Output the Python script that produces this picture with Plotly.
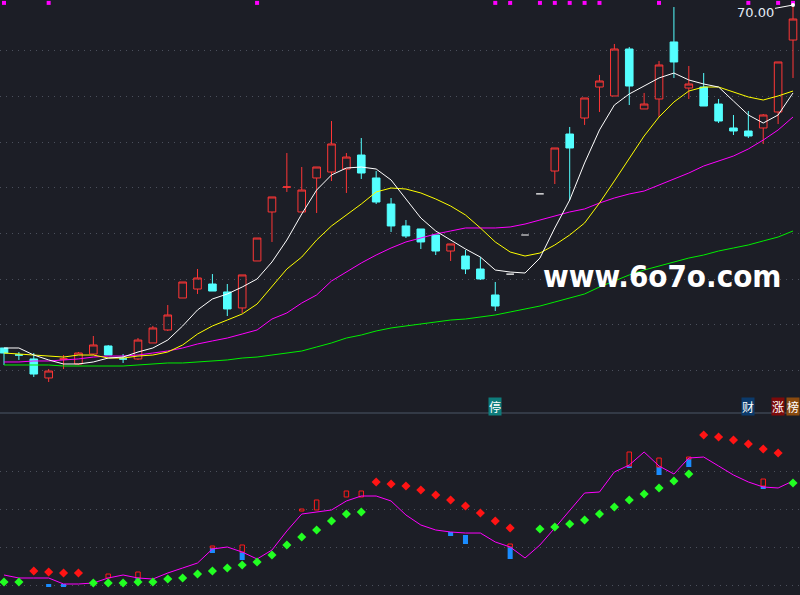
import plotly.graph_objects as go

# ---------------- data ----------------
days = list(range(54))

opens = [32.48, 31.71, 31.28, 29.20, 31.28, 30.73, 31.82, 32.70, 31.28, 31.28,
         33.03, 34.45, 37.95, 38.93, 39.48, 38.61, 36.86, 42.00, 47.36, 50.09,
         47.36, 51.08, 51.73, 52.06, 53.59, 51.08, 48.23, 45.83, 45.50, 44.84,
         43.09, 42.54, 41.12, 38.28, 40.57, 44.84, 49.33, 51.84, 55.89, 57.64,
         61.03, 60.05, 65.19, 58.63, 59.72, 65.96, 60.92, 61.03, 59.17, 56.55,
         56.22, 56.55, 58.30, 66.17]
highs = [32.48, 32.04, 31.93, 30.18, 31.71, 32.04, 33.79, 32.81, 31.82, 33.57,
         34.89, 37.18, 39.70, 41.12, 40.57, 39.48, 40.47, 44.51, 49.00, 53.81,
         52.28, 52.28, 57.31, 53.81, 55.45, 51.84, 48.89, 46.48, 45.50, 44.84,
         43.86, 43.20, 42.43, 39.70, 40.57, 44.84, 49.33, 54.36, 56.66, 59.83,
         62.35, 65.74, 65.41, 60.38, 63.88, 69.78, 63.33, 62.56, 59.72, 57.97,
         58.41, 58.08, 63.77, 70.00]
lows = [30.62, 31.17, 29.31, 28.76, 30.18, 30.62, 31.71, 31.71, 30.84, 31.17,
        33.03, 34.34, 37.95, 38.39, 38.71, 35.98, 36.31, 42.00, 44.08, 49.55,
        47.36, 47.25, 50.75, 49.44, 50.97, 48.23, 45.17, 44.51, 43.31, 42.65,
        42.00, 40.57, 39.92, 36.53, 40.57, 44.84, 49.33, 50.42, 48.67, 56.88,
        58.30, 60.05, 59.06, 58.63, 57.75, 62.02, 59.72, 58.95, 57.09, 55.78,
        55.45, 54.80, 56.98, 62.02]
closes = [31.93, 31.71, 29.63, 29.96, 31.28, 31.93, 32.81, 31.71, 31.28, 33.35,
          34.67, 36.09, 39.70, 40.14, 38.71, 36.75, 40.47, 44.51, 49.00, 50.09,
          49.76, 52.28, 54.80, 53.37, 51.62, 48.45, 45.83, 44.73, 44.08, 43.09,
          43.86, 41.12, 40.03, 37.07, 40.57, 44.84, 49.33, 54.36, 54.36, 59.83,
          61.69, 65.19, 61.14, 59.17, 63.44, 63.77, 61.36, 58.95, 57.31, 56.22,
          55.67, 57.97, 63.77, 68.47]

ma5 = [32.48, 32.48, 31.71, 31.17, 30.73, 30.73, 30.95, 31.38, 31.49, 32.04,
       32.48, 33.35, 34.89, 36.64, 37.84, 38.39, 39.15, 40.03, 41.89, 44.29,
       47.14, 49.76, 51.41, 52.17, 52.28, 52.06, 50.86, 48.78, 46.70, 45.28,
       44.29, 43.31, 42.43, 41.01, 40.79, 40.68, 42.32, 45.61, 48.67, 52.72,
       56.33, 59.06, 60.27, 61.14, 62.02, 62.56, 61.80, 61.36, 61.03, 59.50,
       57.97, 57.09, 57.97, 60.38]
ma10 = [31.93, 31.82, 31.71, 31.60, 31.49, 31.71, 31.71, 31.38, 31.38, 31.60,
        31.71, 32.04, 32.81, 34.01, 34.89, 35.54, 36.20, 37.29, 39.26, 41.12,
        42.43, 44.29, 45.83, 47.03, 48.23, 49.55, 49.98, 49.87, 49.44, 48.78,
        48.01, 47.03, 45.61, 44.08, 42.98, 42.54, 42.87, 43.75, 44.84, 46.15,
        48.34, 50.75, 53.27, 55.67, 57.75, 59.39, 60.59, 61.03, 61.03, 60.49,
        59.94, 59.61, 60.05, 60.59]
ma20 = [30.95, 30.95, 31.06, 31.06, 31.17, 31.28, 31.49, 31.60, 31.60, 31.71,
        31.93, 32.15, 32.48, 32.92, 33.25, 33.57, 34.01, 34.45, 35.65, 36.31,
        37.40, 38.28, 39.81, 40.79, 41.78, 42.65, 43.42, 44.08, 44.51, 44.95,
        45.28, 45.61, 45.61, 45.61, 45.72, 46.04, 46.48, 46.92, 47.36, 47.69,
        48.34, 48.89, 49.33, 49.65, 50.31, 50.97, 51.62, 52.39, 52.94, 53.48,
        54.25, 55.23, 56.33, 57.75]
ma60 = [30.62, 30.62, 30.62, 30.62, 30.51, 30.51, 30.51, 30.51, 30.51, 30.62,
        30.73, 30.84, 30.84, 30.95, 31.06, 31.17, 31.38, 31.49, 31.71, 31.93,
        32.15, 32.59, 33.03, 33.57, 33.90, 34.34, 34.67, 34.89, 35.10, 35.32,
        35.54, 35.65, 35.87, 36.09, 36.42, 36.75, 37.07, 37.51, 37.95, 38.39,
        39.15, 39.81, 40.47, 41.01, 41.45, 41.89, 42.32, 42.65, 43.09, 43.42,
        43.75, 44.19, 44.62, 45.28]

# flagged days (magenta squares along the top)
flag_days = [0, 3, 17, 33, 34, 36, 37, 38, 39, 40, 44, 50, 52, 53]

# event labels
event_days = [33, 50, 52, 53]
event_text = ["停", "财", "涨", "榜"]
event_bg = ["#0e7c7b", "#0b3a6b", "#7d0a0a", "#8a4a0e"]

# ---------------- lower indicator ----------------
ind_line = [2.63, 1.84, 1.84, 1.84, 0.26, 0.26, 0.53, 1.84, 2.63, 1.84,
            1.58, 3.16, 4.47, 5.79, 9.47, 10.00, 8.68, 6.84, 9.21, 14.21,
            18.68, 19.21, 19.74, 22.11, 23.42, 23.42, 22.11, 18.42, 15.79, 14.47,
            13.95, 13.68, 13.68, 11.32, 10.00, 7.11, 10.53, 15.00, 19.74, 24.21,
            24.47, 29.74, 31.58, 35.00, 31.32, 29.21, 33.42, 33.68, 31.32, 28.95,
            27.11, 25.79, 25.53, 27.37]
sar = [0.79, 0.79, 3.68, 3.42, 3.16, 3.16, 0.53, 0.53, 0.53, 0.79,
       0.79, 1.58, 1.84, 2.89, 3.68, 4.47, 5.26, 6.05, 7.89, 10.53,
       12.63, 14.47, 16.84, 18.68, 19.21, 27.11, 26.58, 26.05, 25.00, 23.68,
       22.37, 20.79, 18.95, 16.84, 15.00, None, 14.74, 15.26, 16.05, 17.11,
       18.68, 20.53, 22.37, 23.95, 25.53, 27.37, 29.21, 39.47, 38.95, 38.16,
       37.11, 35.79, 34.74, 26.84]
sar_trend = ["up", "up", "down", "down", "down", "down", "up", "up", "up", "up",
             "up", "up", "up", "up", "up", "up", "up", "up", "up", "up",
             "up", "up", "up", "up", "up", "down", "down", "down", "down", "down",
             "down", "down", "down", "down", "down", None, "up", "up", "up", "up",
             "up", "up", "up", "up", "up", "up", "up", "down", "down", "down",
             "down", "down", "down", "up"]

red_bar_days = [7, 9, 14, 16, 20, 21, 23, 24, 34, 42, 44, 46, 51]
red_bar_low = [1.84, 1.84, 9.74, 8.68, 19.47, 19.74, 23.16, 23.16, 10.00, 31.32, 31.05, 33.16, 26.05]
red_bar_high = [2.89, 3.42, 10.26, 10.53, 20.00, 22.37, 24.74, 24.74, 10.79, 35.00, 33.42, 33.68, 27.89]

blue_bar_days = [3, 4, 9, 14, 16, 30, 31, 34, 42, 44, 46, 51]
blue_bar_top = [0.26, 0.26, 1.84, 9.74, 8.68, 13.95, 13.16, 10.00, 31.32, 31.05, 33.16, 26.05]
blue_bar_bottom = [-0.53, -0.53, 1.05, 8.42, 6.58, 12.89, 10.79, 6.84, 30.79, 28.95, 31.05, 25.26]

main_grid = [30, 35, 40, 45, 50, 55, 60, 65]
lower_grid = [0, 10, 20, 30]

# ---------------- styling ----------------
BG = "#1c1e26"
RED = "#ff3636"
CYAN = "#54ffff"
GRID = "#4b505c"
SPLIT = 1 - 413 / 595

fig = go.Figure()

flat = [i for i in days if opens[i] == highs[i] == lows[i] == closes[i]]
normal = [i for i in days if i not in flat]

fig.add_trace(go.Candlestick(
    x=normal,
    open=[opens[i] for i in normal], high=[highs[i] for i in normal],
    low=[lows[i] for i in normal], close=[closes[i] for i in normal],
    increasing=dict(line=dict(color=RED, width=1), fillcolor="rgba(0,0,0,0)"),
    decreasing=dict(line=dict(color=CYAN, width=1), fillcolor=CYAN),
    xaxis="x", yaxis="y", showlegend=False, hoverinfo="skip"))
fig.add_trace(go.Candlestick(
    x=flat,
    open=[opens[i] for i in flat], high=[highs[i] for i in flat],
    low=[lows[i] for i in flat], close=[closes[i] for i in flat],
    increasing=dict(line=dict(color="#ffffff", width=1.2), fillcolor="#ffffff"),
    decreasing=dict(line=dict(color="#ffffff", width=1.2), fillcolor="#ffffff"),
    xaxis="x", yaxis="y", showlegend=False, hoverinfo="skip"))

for vals, col in [(ma60, "#00ee00"), (ma20, "#ff00ff"), (ma10, "#ffff00"), (ma5, "#ffffff")]:
    fig.add_trace(go.Scatter(x=days, y=vals, mode="lines",
                             line=dict(color=col, width=1),
                             xaxis="x", yaxis="y", showlegend=False, hoverinfo="skip"))

fig.add_trace(go.Scatter(x=flag_days, y=[0.993] * len(flag_days), mode="markers",
                         marker=dict(symbol="square", size=4, color="#ff00ff"),
                         xaxis="x", yaxis="y3", showlegend=False, hoverinfo="skip",
                         cliponaxis=False))

# lower panel
fig.add_trace(go.Bar(x=blue_bar_days,
                     y=[t - b for t, b in zip(blue_bar_top, blue_bar_bottom)],
                     base=blue_bar_bottom, width=0.34,
                     marker=dict(color="#1a8cff", line=dict(width=0)),
                     xaxis="x2", yaxis="y2", showlegend=False, hoverinfo="skip"))
fig.add_trace(go.Bar(x=red_bar_days,
                     y=[h - l for h, l in zip(red_bar_high, red_bar_low)],
                     base=red_bar_low, width=0.3,
                     marker=dict(color="rgba(0,0,0,0)", line=dict(color="#ff1a1a", width=1)),
                     xaxis="x2", yaxis="y2", showlegend=False, hoverinfo="skip"))
fig.add_trace(go.Scatter(x=days, y=ind_line, mode="lines",
                         line=dict(color="#ff00ff", width=1),
                         xaxis="x2", yaxis="y2", showlegend=False, hoverinfo="skip"))
up_idx = [i for i in days if sar_trend[i] == "up"]
dn_idx = [i for i in days if sar_trend[i] == "down"]
fig.add_trace(go.Scatter(x=up_idx, y=[sar[i] for i in up_idx], mode="markers",
                         marker=dict(symbol="diamond", size=7, color="#22ff22"),
                         xaxis="x2", yaxis="y2", showlegend=False, hoverinfo="skip"))
fig.add_trace(go.Scatter(x=dn_idx, y=[sar[i] for i in dn_idx], mode="markers",
                         marker=dict(symbol="diamond", size=7, color="#ff1414"),
                         xaxis="x2", yaxis="y2", showlegend=False, hoverinfo="skip"))

xr = [-0.269, 53.47]
ax_common = dict(showgrid=False, zeroline=False, showticklabels=False, showline=False, ticks="")

annotations = []
top_i = max(days, key=lambda i: highs[i])
annotations.append(dict(x=top_i, y=highs[top_i], xref="x", yref="y",
                        text=f"{highs[top_i]:.2f}", showarrow=True,
                        arrowhead=6, arrowsize=1, arrowwidth=1, arrowcolor="#ffffff",
                        ax=-38, ay=7,
                        font=dict(family="DejaVu Sans", size=13, color="#e4ecf6")))
for d, t, bg in zip(event_days, event_text, event_bg):
    annotations.append(dict(x=d, y=1 - 406 / 595, xref="x", yref="paper", text=t,
                            showarrow=False, bgcolor=bg, borderpad=0,
                            xanchor="center", yanchor="middle",
                            font=dict(family="Noto Sans CJK SC", size=12, color="#ffffff")))
annotations.append(dict(x=662 / 800, y=1 - 276 / 595, xref="paper", yref="paper",
                        text="<b>www.6o7o.com</b>", showarrow=False,
                        xanchor="center", yanchor="middle",
                        font=dict(family="DejaVu Sans Condensed, DejaVu Sans", size=31,
                                  color="#ffffff")))

fig.update_layout(
    width=800, height=595,
    margin=dict(l=0, r=0, t=0, b=0, pad=0, autoexpand=False),
    paper_bgcolor=BG, plot_bgcolor=BG,
    boxgap=0.27, barmode="overlay",
    showlegend=False, hovermode=False,
    xaxis=dict(range=xr, anchor="y", domain=[0, 1], rangeslider=dict(visible=False), **ax_common),
    xaxis2=dict(range=xr, anchor="y2", domain=[0, 1], matches="x", **ax_common),
    yaxis=dict(domain=[SPLIT, 1], range=[70.55 - 413 * 0.1094, 70.55],
               tickvals=main_grid, showgrid=True, gridcolor=GRID, griddash="1px,5px",
               gridwidth=1, zeroline=False, showticklabels=False, ticks=""),
    yaxis2=dict(domain=[0, SPLIT], range=[(585 - 595) / 3.8, (585 - 413) / 3.8],
                tickvals=lower_grid, showgrid=True, gridcolor=GRID, griddash="1px,5px",
                gridwidth=1, zeroline=False, showticklabels=False, ticks=""),
    yaxis3=dict(overlaying="y", range=[0, 1], visible=False),
    annotations=annotations,
    shapes=[dict(type="line", xref="paper", yref="paper", x0=0, x1=1, y0=SPLIT, y1=SPLIT,
                 line=dict(color="#3b4452", width=1.5))],
)

fig.write_html(
    "out.html",
    config={"displayModeBar": False, "staticPlot": True},
    post_script="document.body.style.margin='0';document.body.style.padding='0';"
                "document.body.style.background='" + BG + "';",
)
